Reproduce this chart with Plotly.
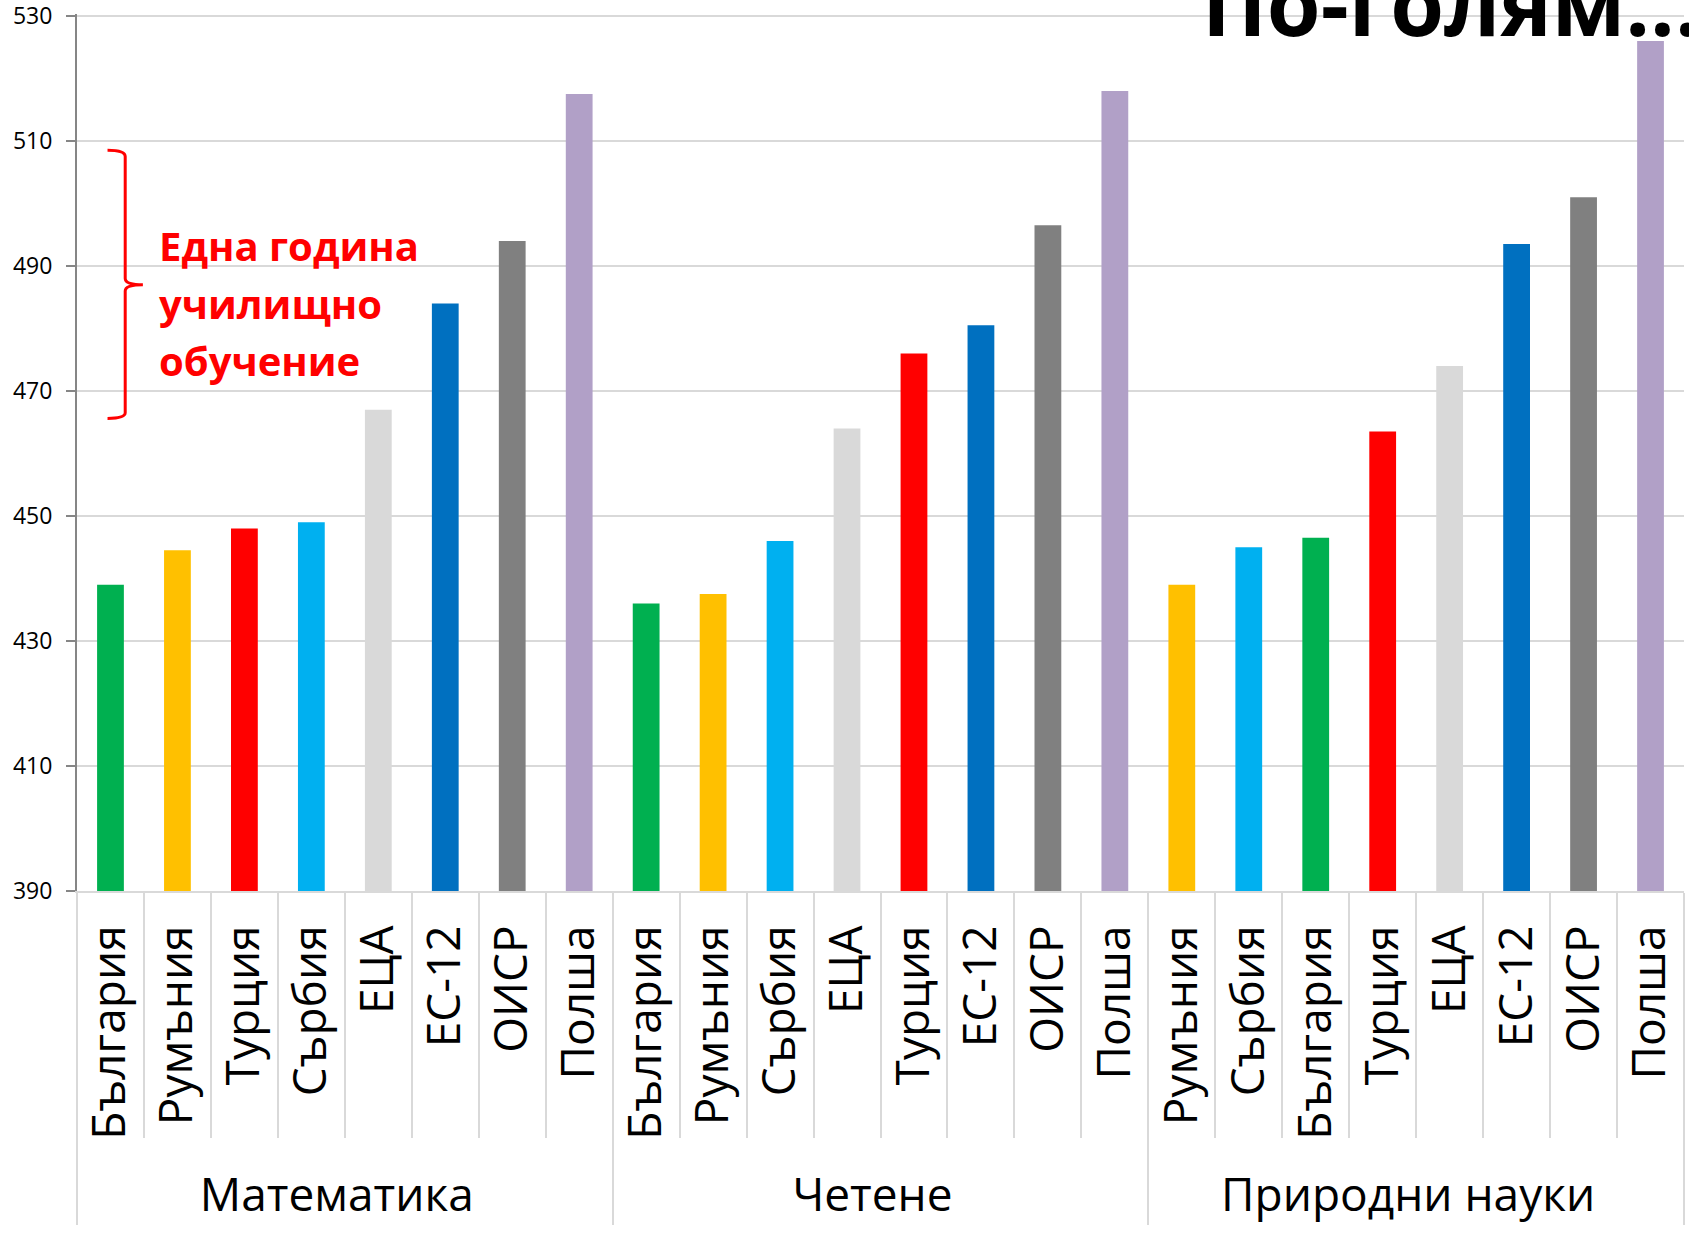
import plotly.graph_objects as go

groups = ["Математика", "Четене", "Природни науки"]

math_countries = ["България", "Румъния", "Турция", "Сърбия", "ЕЦА", "ЕС-12", "ОИСР", "Полша"]
math_values = [439, 444.5, 448, 449, 467, 484, 494, 517.5]

read_countries = ["България", "Румъния", "Сърбия", "ЕЦА", "Турция", "ЕС-12", "ОИСР", "Полша"]
read_values = [436, 437.5, 446, 464, 476, 480.5, 496.5, 518]

sci_countries = ["Румъния", "Сърбия", "България", "Турция", "ЕЦА", "ЕС-12", "ОИСР", "Полша"]
sci_values = [439, 445, 446.5, 463.5, 474, 493.5, 501, 526]

country_colors = {
    "България": "#00B050",
    "Румъния": "#FFC000",
    "Турция": "#FF0000",
    "Сърбия": "#00B0F0",
    "ЕЦА": "#D9D9D9",
    "ЕС-12": "#0070C0",
    "ОИСР": "#808080",
    "Полша": "#B1A0C7",
}

y_ticks = [390, 410, 430, 450, 470, 490, 510, 530]

outer, inner, vals, cols = [], [], [], []
for gi, (g, cs, vs) in enumerate(zip(groups, [math_countries, read_countries, sci_countries],
                                     [math_values, read_values, sci_values])):
    for c, v in zip(cs, vs):
        outer.append(g)
        # invisible suffix keeps each group's own category order
        inner.append(c + "\u200b" * gi)
        vals.append(v)
        cols.append(country_colors[c])

FONT = "Open Sans"

fig = go.Figure(go.Bar(
    x=[outer, inner], y=vals, marker=dict(color=cols, line=dict(width=0)),
    width=0.4, showlegend=False, hoverinfo="skip",
))

fig.update_layout(
    width=1689, height=1233,
    margin=dict(l=77, r=5, t=14, b=342),
    paper_bgcolor="white", plot_bgcolor="white",
    font=dict(family=FONT, color="black"),
)

fig.update_xaxes(
    type="multicategory",
    automargin=False,
    tickangle=-90,
    tickfont=dict(size=46, family=FONT, color="black"),
    ticklabelstandoff=14,
    showline=True, linecolor="#D9D9D9", linewidth=2,
    ticks="outside", tickson="boundaries", ticklen=245, tickcolor="#D9D9D9", tickwidth=2,
    showdividers=True, dividercolor="#D9D9D9", dividerwidth=2,
    showgrid=False,
)

fig.update_yaxes(
    automargin=False,
    range=[390, 530.3], tickvals=y_ticks,
    tickfont=dict(size=23, family=FONT, color="black"),
    ticklabelstandoff=9, ticklabeloverflow="allow",
    showline=True, linecolor="#868686", linewidth=2,
    ticks="outside", ticklen=9, tickcolor="#868686", tickwidth=2,
    showgrid=True, gridcolor="#D9D9D9", gridwidth=2,
    zeroline=False,
)

# Curly brace marking one school year
fig.add_shape(
    type="path", xref="paper", yref="y",
    path=("M 0.019,508.5 Q 0.030,508.5 0.030,507.5 L 0.030,488 "
          "Q 0.030,487 0.041,487 Q 0.030,487 0.030,486 L 0.030,466.5 "
          "Q 0.030,465.6 0.019,465.6"),
    line=dict(color="#FF0000", width=3),
)

note_lines = ["Една година", "училищно", "обучение"]
note_y = [493.3, 484.0, 474.9]
for t, yy in zip(note_lines, note_y):
    fig.add_annotation(
        text=t, xref="paper", yref="y", x=0.05, y=yy, xanchor="left", yanchor="middle",
        showarrow=False, align="left",
        font=dict(family=FONT, size=40, color="#FF0000", weight="bold"),
    )

fig.add_annotation(
    text="По-голям...",
    xref="paper", yref="paper", x=(1200 - 77) / 1607, y=1.0137, xanchor="left", yanchor="middle",
    showarrow=False, align="left",
    font=dict(family=FONT, size=87, color="black", weight="bold"),
)

fig.write_html(
    "out.html",
    config={"displayModeBar": False},
    post_script="document.body.style.margin='0';document.body.style.overflow='hidden';",
)
